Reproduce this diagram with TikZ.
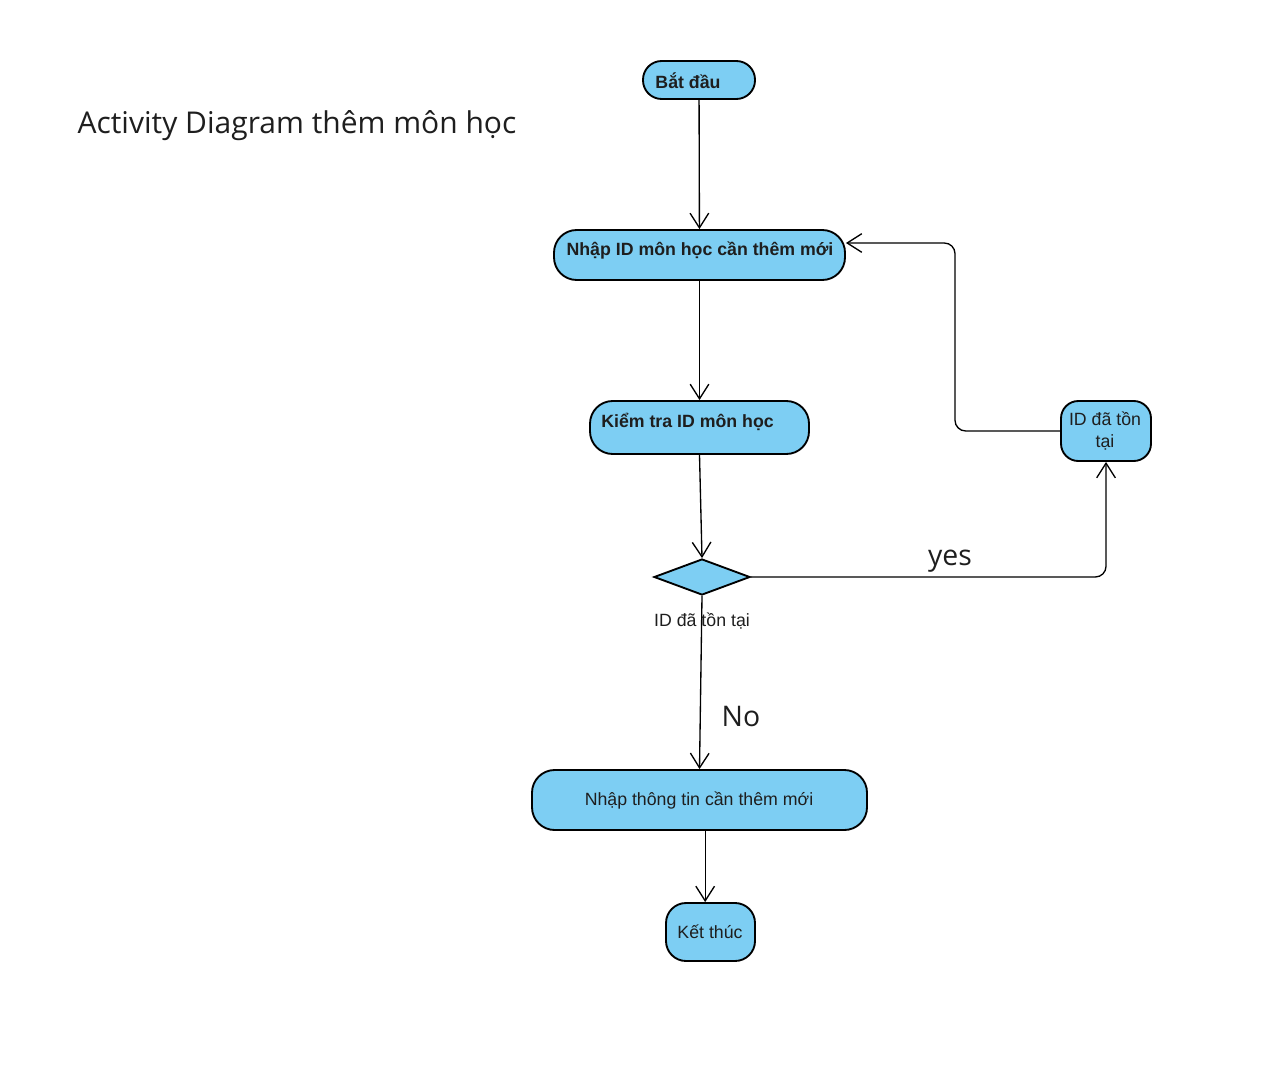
\documentclass[tikz,border=0pt]{standalone}
\usepackage{fontspec}
\setmainfont{Liberation Sans}
\newfontfamily\osans{Open Sans}
\usetikzlibrary{arrows.meta,shapes.geometric}
\definecolor{actfill}{RGB}{125,206,243}
\definecolor{txtdark}{RGB}{30,30,30}
\begin{document}
\begin{tikzpicture}[x=0.75pt,y=-0.75pt,
  actbox/.style={draw=black, line width=1.4pt, fill=actfill, inner sep=0pt},
  lbl/.style={inner sep=0pt, font=\fontsize{13.3}{16}\selectfont, text=txtdark},
  blbl/.style={inner sep=0pt, font=\fontsize{13.3}{16}\selectfont\bfseries, text=txtdark},
  big/.style={inner sep=0pt, font=\osans\fontsize{21.3}{26}\selectfont, text=txtdark},
  flow/.style={draw=black, line width=1pt, -{Straight Barb[length=11pt,width=14pt,line width=1pt]}}
]
\useasboundingbox (0,0) rectangle (1280,1066);

% title
\node[inner sep=0pt, font=\osans\fontsize{22.5}{27}\selectfont, text=txtdark] (title) at (297,126) {Activity Diagram thêm môn học};

% nodes
\node[actbox, rounded corners=14pt, minimum width=84pt, minimum height=28.5pt] (start) at (699,80) {};
\node[blbl] (starttxt) at (688,81) {Bắt đầu};

\node[actbox, rounded corners=17pt, minimum width=218.25pt, minimum height=37.5pt] (nhap) at (699.5,255) {};
\node[blbl] (nhaptxt) at (700,251) {Nhập ID môn học cần thêm mới};

\node[actbox, rounded corners=17pt, minimum width=164.25pt, minimum height=39.75pt] (kiem) at (699.5,427.5) {};
\node[blbl, anchor=west] (kiemtxt) at (601,422) {Kiểm tra ID môn học};

\node[actbox, diamond, minimum width=72pt, minimum height=27pt] (dia) at (702,577) {};
\node[lbl] (dialbl) at (702,621) {ID đã tồn tại};

\node[actbox, rounded corners=13pt, minimum width=67.5pt, minimum height=45pt] (exist) at (1106,431) {};
\node[lbl, align=center] (existtxt) at (1105,431) {ID đã tồn\\tại};

\node[actbox, rounded corners=17pt, minimum width=251.25pt, minimum height=45pt] (info) at (699.5,800) {};
\node[lbl] (infotxt) at (699,801) {Nhập thông tin cần thêm mới};

\node[actbox, rounded corners=15pt, minimum width=66.75pt, minimum height=43.5pt] (end) at (710.5,932) {};
\node[lbl] (endtxt) at (710,932) {Kết thúc};

% connectors
\draw[flow] (start) -- (nhap);
\draw[flow] (nhap) -- (kiem);
\draw[flow] (kiem.south) -- (dia.north);
\draw[flow, rounded corners=8pt] (dia.east) -| (exist.south);
\node[big] (yes) at (950,561) {yes};
\coordinate (loop) at (955,243);
\draw[flow, rounded corners=8pt] (exist.west) -| (loop) -- ([yshift=9pt]nhap.east);
\draw[flow] (dia.south) -- (info.north);
\node[big] (no) at (741,716) {No};
\draw[flow] ([xshift=-4pt]end.north |- info.south) -- ([xshift=-4pt]end.north);
\end{tikzpicture}
\end{document}
